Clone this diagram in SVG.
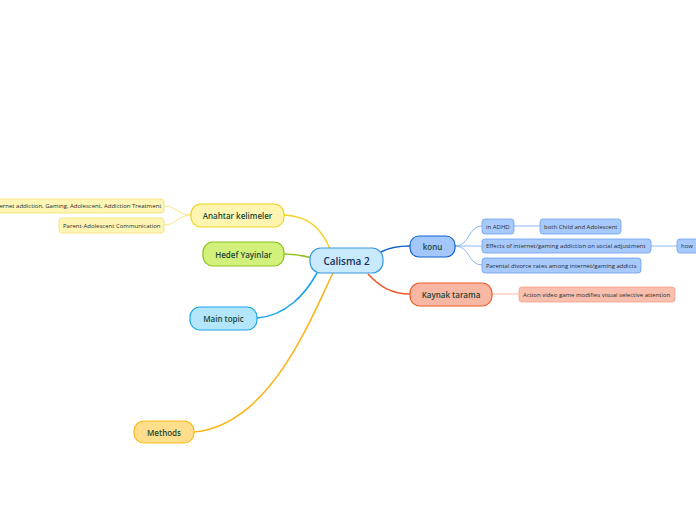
<svg xmlns="http://www.w3.org/2000/svg" width="696" height="520" viewBox="0 0 696 520">
<style>
text{font-family:"Open Sans","Noto Sans","Liberation Sans",sans-serif;dominant-baseline:central}
.c{font-size:10px;font-weight:600;fill:#16305a;text-anchor:middle}
.t{font-size:8px;font-weight:600;fill:#1b4636;text-anchor:middle}
.l{font-size:6px;fill:#2b2b2b}
.ln{fill:none;stroke-width:1.6}
.lf{fill:none;stroke-width:1}
</style>
<rect width="696" height="520" fill="#fff"/>
<g id="connectors">
<path class="ln" stroke="#f2d21f" d="M284,215 C310,216 322,230 330,249"/>
<path class="ln" stroke="#8cc21a" d="M284,254 C298,254 304,256 312,258"/>
<path class="ln" stroke="#1aa5ea" d="M257,318 C285,316 305,295 317,273"/>
<path class="ln" stroke="#fbb61c" d="M194,432 C270,425 310,320 333,273"/>
<path class="ln" stroke="#1262d1" d="M381,252 C390,247 398,246 410,246"/>
<path class="ln" stroke="#f1592a" d="M368,274 C380,287 392,294 410,294"/>
<path class="lf" stroke="#f6e78a" d="M191,215 C178,215 176,206 164,206"/>
<path class="lf" stroke="#f6e78a" d="M191,215 C178,215 176,225 164,225"/>
<path class="lf" stroke="#8db6f4" d="M455,246 C470,246 468,226 482,226"/>
<path class="lf" stroke="#8db6f4" d="M455,246 L482,246"/>
<path class="lf" stroke="#8db6f4" d="M455,246 C470,246 468,265 482,265"/>
<path class="lf" stroke="#8db6f4" d="M514,226 L540,226"/>
<path class="lf" stroke="#8db6f4" d="M651,246 L677,246"/>
<path class="lf" stroke="#f7b7a3" d="M492,294 L519,294"/>
</g>
<g id="central">
<rect x="310" y="248" width="73" height="25" rx="11" fill="#c9e9fc" stroke="#3b98dc" stroke-width="1.2"/>
<text class="c" x="346.5" y="261">Calisma 2</text>
</g>
<g id="anahtar">
<rect x="191" y="204" width="93" height="23" rx="10" fill="#fff5b0" stroke="#f0d21a" stroke-width="1.2"/>
<text class="t" x="237.5" y="215.5">Anahtar kelimeler</text>
</g>
<g id="hedef">
<rect x="203" y="242" width="81" height="24" rx="10" fill="#d2f17b" stroke="#8ac11a" stroke-width="1.2"/>
<text class="t" x="243.5" y="254">Hedef Yayinlar</text>
</g>
<g id="main-topic">
<rect x="190" y="307" width="67" height="23" rx="10" fill="#b3e5fb" stroke="#1ea6e9" stroke-width="1.2"/>
<text class="t" x="223.5" y="318.5">Main topic</text>
</g>
<g id="methods">
<rect x="134" y="421" width="60" height="22" rx="10" fill="#fede8a" stroke="#fbbb1d" stroke-width="1.2"/>
<text class="t" x="164" y="432">Methods</text>
</g>
<g id="konu">
<rect x="410" y="236" width="45" height="21" rx="9" fill="#a3c6fb" stroke="#1363d3" stroke-width="1.2"/>
<text class="t" x="432.5" y="246.5">konu</text>
</g>
<g id="kaynak">
<rect x="410" y="283" width="82" height="23" rx="10" fill="#f8b7a2" stroke="#ef5a24" stroke-width="1.2"/>
<text class="t" x="451" y="294.5">Kaynak tarama</text>
</g>
<g id="kw1">
<rect x="-12" y="199" width="176" height="14" rx="3" fill="#fff6b5" stroke="#f3df72" stroke-width="0.8"/>
<text class="l" x="-8" y="206">Internet addiction, Gaming, Adolescent, Addiction Treatment</text>
</g>
<g id="kw2">
<rect x="59" y="218" width="105" height="15" rx="3" fill="#fff6b5" stroke="#f3df72" stroke-width="0.8"/>
<text class="l" x="63" y="225.5">Parent-Adolescent Communication</text>
</g>
<g id="adhd">
<rect x="482" y="219" width="32" height="15" rx="3" fill="#a8c9fb" stroke="#6d9ff0" stroke-width="0.8"/>
<text class="l" x="486" y="226.5">in ADHD</text>
</g>
<g id="both">
<rect x="540" y="219" width="81" height="15" rx="3" fill="#a8c9fb" stroke="#6d9ff0" stroke-width="0.8"/>
<text class="l" x="544" y="226.5">both Child and Adolescent</text>
</g>
<g id="effects">
<rect x="482" y="239" width="169" height="14" rx="3" fill="#a8c9fb" stroke="#6d9ff0" stroke-width="0.8"/>
<text class="l" x="486" y="246">Effects of internet/gaming addiction on social adjustment</text>
</g>
<g id="how">
<rect x="677" y="239" width="40" height="14" rx="3" fill="#a8c9fb" stroke="#6d9ff0" stroke-width="0.8"/>
<text class="l" x="681" y="246">how</text>
</g>
<g id="parental">
<rect x="482" y="258" width="159" height="15" rx="3" fill="#a8c9fb" stroke="#6d9ff0" stroke-width="0.8"/>
<text class="l" x="486" y="265.5">Parental divorce rates among internet/gaming addicts</text>
</g>
<g id="action">
<rect x="519" y="287" width="156" height="15" rx="3" fill="#f8bfae" stroke="#f4a189" stroke-width="0.8"/>
<text class="l" x="523" y="294.5">Action video game modifies visual selective attention</text>
</g>
</svg>
